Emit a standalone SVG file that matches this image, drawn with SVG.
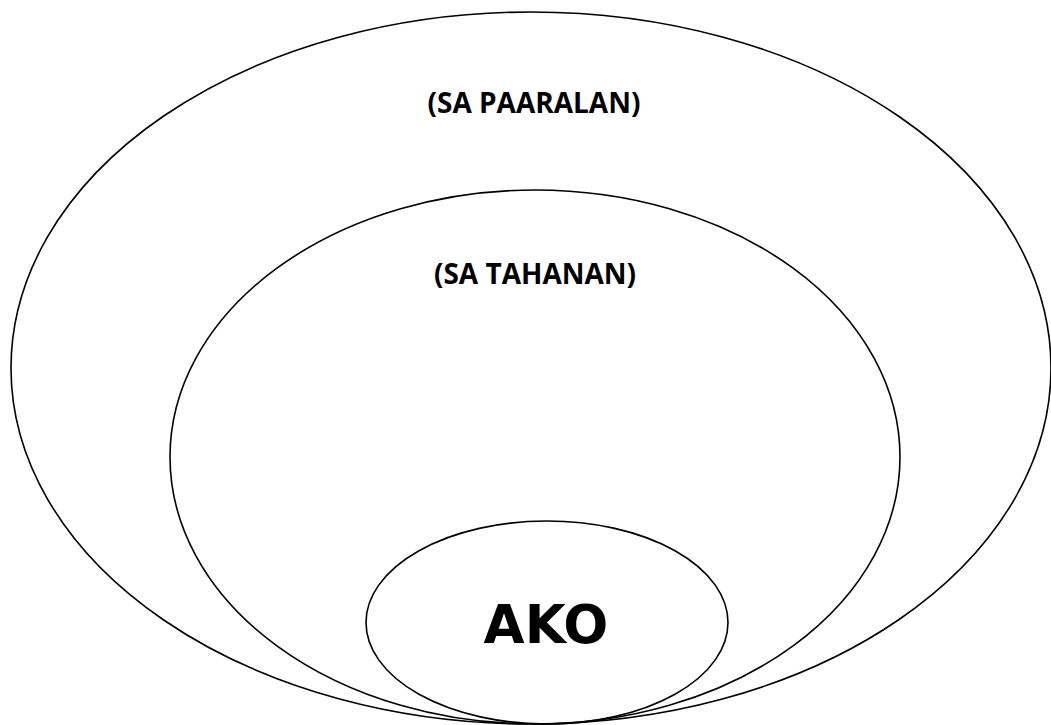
<svg xmlns="http://www.w3.org/2000/svg" width="1051" height="725" viewBox="0 0 1051 725">
<style>
.ring{fill:none;stroke:#000;stroke-width:1.6}
.lbl{font-family:"Open Sans","Liberation Sans",sans-serif;font-weight:bold;font-size:28px;fill:#000;text-anchor:middle}
.big{font-family:"DejaVu Sans",sans-serif;font-weight:bold;font-size:53px;fill:#000;text-anchor:middle}
</style>
<rect width="1051" height="725" fill="#fff"/>
<g id="paaralan">
<ellipse class="ring" cx="531" cy="368" rx="520" ry="356"/>
<text class="lbl" x="534" y="113">(SA PAARALAN)</text>
</g>
<g id="tahanan">
<ellipse class="ring" cx="535" cy="457" rx="365" ry="267"/>
<text class="lbl" x="535" y="284">(SA TAHANAN)</text>
</g>
<g id="ako">
<ellipse class="ring" cx="547" cy="622.5" rx="181" ry="101.5"/>
<text class="big" x="546" y="643">AKO</text>
</g>
<g id="connectors"/>
</svg>
